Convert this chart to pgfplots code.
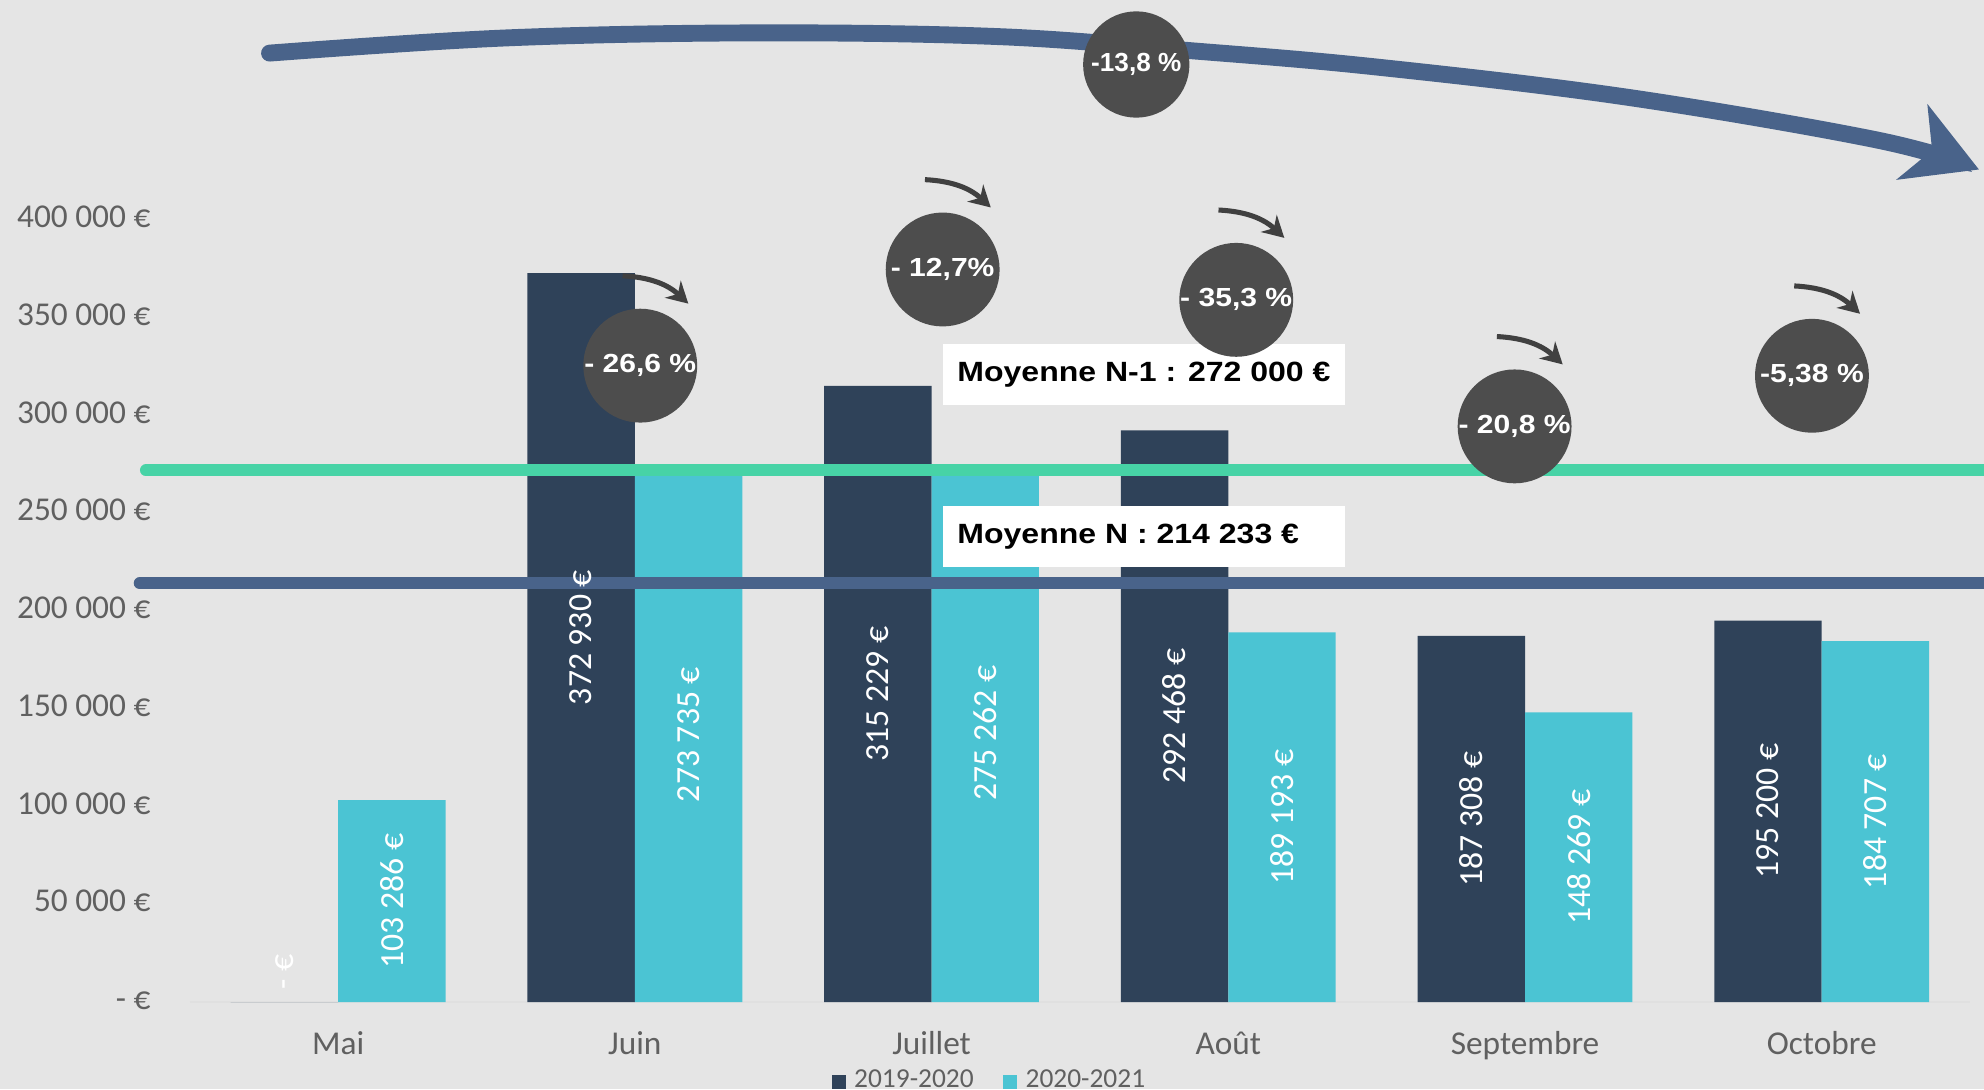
\documentclass[border=0pt]{standalone}
\usepackage{fontspec}
\setmainfont{Carlito}
\newfontfamily\heavy{Liberation Sans}[FakeStretch=1.15]
\newfontfamily\arialb{Liberation Sans}
\usepackage{pgfplots}
\usepackage{pgfplotstable}
\pgfplotsset{compat=1.18}
\usetikzlibrary{arrows.meta}

\definecolor{bg}{HTML}{E5E5E5}
\definecolor{navybar}{HTML}{2F4259}
\definecolor{cyanbar}{HTML}{4BC4D3}
\definecolor{avgone}{HTML}{47D3A6}
\definecolor{avgtwo}{HTML}{49638A}
\definecolor{circ}{HTML}{4D4D4D}
\definecolor{arr}{HTML}{404040}
\definecolor{labgray}{HTML}{606060}

% CA mensuel, deux saisons
\pgfplotstableread[col sep=comma]{
x,a,b,la,lb
0,0,103286,- €,103 286 €
1,372930,273735,372 930 €,273 735 €
2,315229,275262,315 229 €,275 262 €
3,292468,189193,292 468 €,189 193 €
4,187308,148269,187 308 €,148 269 €
5,195200,184707,195 200 €,184 707 €
}\sales

\newcommand\pctfont{\heavy\bfseries\fontsize{6.2}{7}\selectfont}

\begin{document}
\begin{tikzpicture}
\fill[bg] (-45pt,-20.7pt) rectangle (425.4pt,237.6pt);
\begin{axis}[
  scale only axis, width=422.1pt, height=185.4pt,
  xmin=-0.5, xmax=5.5, ymin=0, ymax=400000,
  scaled y ticks=false,
  axis line style={draw=none}, tick style={draw=none},
  xtick={0,...,5}, xticklabels={Mai,Juin,Juillet,Août,Septembre,Octobre},
  ytick={0,50000,...,400000},
  yticklabels={- €,50 000 €,100 000 €,150 000 €,200 000 €,250 000 €,300 000 €,350 000 €,400 000 €},
  ticklabel style={font=\fontsize{7.9}{9}\selectfont, text=labgray},
  typeset ticklabels with strut,
  xticklabel style={yshift=-2.5pt},
  yticklabel style={xshift=-5.8pt},
  clip=false,
  legend columns=2,
  legend style={at={(0.451,-0.102)}, anchor=center, draw=none, fill=none,
    font=\fontsize{6.5}{7}\selectfont, text=labgray,
    /tikz/every even column/.append style={column sep=5pt}},
  legend image code/.code={\fill[#1] (0pt,-1.65pt) rectangle (3.3pt,1.65pt);},
]
\draw[black!12, line width=0.5pt] (axis cs:-0.5,0) -- (axis cs:5.5,0);
\addplot[ybar, bar width=0.362, bar shift=-0.181, fill=navybar, draw=none] table[x=x,y=a]{\sales};
\addlegendentry{2019-2020}
\addplot[ybar, bar width=0.362, bar shift=0.181, fill=cyanbar, draw=none] table[x=x,y=b]{\sales};
\addlegendentry{2020-2021}
\addplot[forget plot, draw=none, mark=none, nodes near coords, point meta=explicit symbolic,
  every node near coord/.append style={rotate=90, anchor=center, text=white, font=\fontsize{8}{9}\selectfont}]
  table[x expr=\thisrow{x}-0.181, y expr={max(\thisrow{a}/2,15500)}, meta=la]{\sales};
\addplot[forget plot, draw=none, mark=none, nodes near coords, point meta=explicit symbolic,
  every node near coord/.append style={rotate=90, anchor=center, text=white, font=\fontsize{8}{9}\selectfont}]
  table[x expr=\thisrow{x}+0.181, y expr={\thisrow{b}/2}, meta=lb]{\sales};
\draw[avgone, line width=2.8pt, line cap=round] (axis cs:-0.648,272000) -- (axis cs:5.8,272000);
\draw[avgtwo, line width=2.8pt, line cap=round] (axis cs:-0.669,214233) -- (axis cs:5.8,214233);
\end{axis}

\begin{scope}[shift={(-45pt,237.6pt)}, x=0.3pt, y=-0.3pt]
  % moyennes
  \fill[white] (745,272) rectangle (1063,320);
  \node[anchor=west, inner sep=0pt, font=\heavy\bfseries\fontsize{6.6}{7}\selectfont] at (756,296) {Moyenne N-1 : 272 000 €};
  \fill[white] (745,400) rectangle (1063,448);
  \node[anchor=west, inner sep=0pt, font=\heavy\bfseries\fontsize{6.6}{7}\selectfont] at (756,424) {Moyenne N : 214 233 €};
  % tendance globale
  \draw[avgtwo, line width=4pt, line cap=round, -{Stealth[length=17pt,width=19pt,inset=5pt]}]
    plot[smooth, tension=0.6] coordinates {(213,42) (400,30) (600,26) (790,29) (940,40) (1088,53) (1287,77) (1485,111) (1564,134)};
  \fill[circ] (898,51) circle[radius=12.6pt];
  \node[text=white, font=\arialb\bfseries\fontsize{6.2}{7}\selectfont] at (898,51) {-13,8 \%};
  % variations mensuelles
  \foreach \cx/\cy/\t in {506/289/{- 26,6 \%}, 745/213/{- 12,7\%}, 977/237/{- 35,3 \%}, 1197/337/{- 20,8 \%}, 1432/297/{-5,38 \%}} {
    \draw[arr, line width=1.2pt, -{Stealth[length=5pt,width=5.5pt]}] ({\cx-14},{\cy-71}) to[bend left=20] ({\cx+38},{\cy-49});
    \fill[circ] (\cx,\cy) circle[radius=13.5pt];
    \node[text=white, font=\pctfont] at (\cx,\cy) {\t};
  }
\end{scope}
\pgfresetboundingbox
\useasboundingbox (-45pt,-20.7pt) rectangle (425.4pt,237.6pt);
\end{tikzpicture}
\end{document}
